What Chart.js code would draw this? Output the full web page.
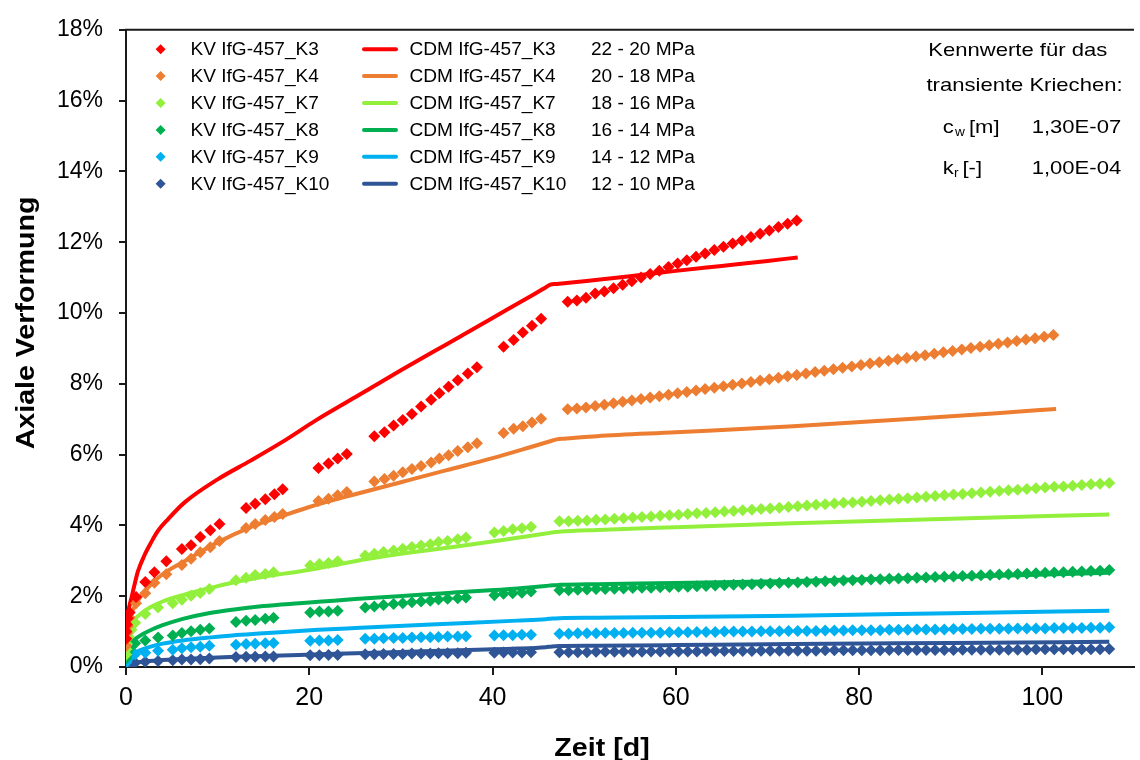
<!DOCTYPE html>
<html><head><meta charset="utf-8">
<script src="https://cdn.jsdelivr.net/npm/chart.js@4/dist/chart.umd.min.js"></script>
<style>html,body{margin:0;padding:0;background:#fff;}#c{display:block;}</style>
</head><body>
<canvas id="c" width="1140" height="760"></canvas>
<script>
// ---------- data ----------
const seriesNames = ['IfG-457_K3','IfG-457_K4','IfG-457_K7','IfG-457_K8','IfG-457_K9','IfG-457_K10'];
const stressLabels = ['22 - 20 MPa','20 - 18 MPa','18 - 16 MPa','16 - 14 MPa','14 - 12 MPa','12 - 10 MPa'];
const xTicks = [0,20,40,60,80,100];
const yTicks = [0,2,4,6,8,10,12,14,16,18];
const xTitle = 'Zeit [d]';
const yTitle = 'Axiale Verformung';
const noteLines = ['Kennwerte für das','transiente Kriechen:'];
const noteParams = [['c','w','[m]','1,30E-07'],['k','r','[-]','1,00E-04']];

const kvK3Days = [0.02,0.05,0.1,0.2,0.4,1.1,2.1,3.1,4.4,6.1,7.1,8.1,9.2,10.2,
 13.1,14.1,15.2,16.2,17.1,
 21.0,22.1,23.1,24.1,
 27.1,28.2,29.2,30.2,31.2,32.2,33.3,34.2,35.2,36.2,37.3,38.3,
 41.2,42.3,43.3,44.3,45.3,
 48.2,49.2,50.2,51.2,52.2,53.2,54.2,55.2,56.2,57.2,58.2,59.2,60.2,61.2,62.2,63.2,64.2,65.2,66.2,67.2,68.2,69.2,70.2,71.2,72.2,73.2];
const kvK3 = [0.8,1.0,1.2,1.38,1.54,1.98,2.4,2.68,2.99,3.33,3.44,3.67,3.86,4.04,
 4.49,4.61,4.74,4.88,5.02,
 5.62,5.75,5.89,6.02,
 6.52,6.63,6.82,6.98,7.15,7.36,7.55,7.73,7.92,8.10,8.29,8.47,
 9.05,9.24,9.45,9.64,9.84,
 10.32,10.35,10.43,10.55,10.61,10.70,10.80,10.90,11.00,11.10,11.19,11.30,11.40,11.49,11.59,11.68,11.78,11.87,11.96,12.05,12.15,12.24,12.33,12.43,12.52,12.61];

const kvK4Days = [0.02,0.05,0.1,0.2,0.4,1.1,2.1,3.1,4.4,6.1,7.1,8.1,9.2,10.2,
 13.1,14.1,15.2,16.2,17.1,
 21.0,22.1,23.1,24.1,
 27.1,28.2,29.2,30.2,31.2,32.2,33.3,34.2,35.2,36.2,37.3,38.3,
 41.2,42.3,43.3,44.3,45.3,
 48.2,49.2,50.2,51.2,52.2,53.2,54.2,55.2,56.2,57.2,
 58.2,59.2,60.2,61.2,62.2,63.2,64.2,65.2,66.2,67.2,
 68.2,69.2,70.2,71.2,72.2,73.2,74.2,75.2,76.2,77.2,
 78.2,79.2,80.2,81.2,82.2,83.2,84.2,85.2,86.2,87.2,
 88.2,89.2,90.2,91.2,92.2,93.2,94.2,95.2,96.2,97.2,
 98.2,99.2,100.2,101.2];
const kvK4 = [0.6,0.8,0.95,1.15,1.4,1.8,2.08,2.38,2.62,2.88,3.06,3.24,3.38,3.56,
 3.93,4.04,4.15,4.24,4.32,
 4.69,4.75,4.85,4.94,
 5.24,5.31,5.40,5.50,5.59,5.68,5.78,5.89,5.98,6.10,6.21,6.32,
 6.61,6.73,6.80,6.91,7.01,
 7.28,7.30,7.33,7.37,7.41,7.45,7.49,7.53,7.57,7.61,
 7.65,7.69,7.73,7.77,7.81,7.85,7.89,7.93,7.97,8.01,
 8.05,8.09,8.13,8.17,8.21,8.25,8.29,8.33,8.37,8.41,
 8.45,8.49,8.53,8.57,8.61,8.65,8.69,8.73,8.77,8.81,
 8.85,8.89,8.93,8.97,9.01,9.05,9.09,9.13,9.17,9.21,
 9.25,9.29,9.33,9.38];

const kvDaysB = [0.02,0.05,0.1,0.3,0.6,1.0,2.1,3.5,5.1,6.1,7.1,8.1,9.1,
 12.0,13.1,14.1,15.2,16.1,
 20.1,21.1,22.1,23.1,
 26.1,27.1,28.1,29.2,30.2,31.2,32.2,33.2,34.1,35.1,36.2,37.1,
 40.2,41.2,42.2,43.2,44.2,
 47.3,48.3,49.3,50.3,51.3,52.3,53.3,54.3,55.3,56.3,
 57.3,58.3,59.3,60.3,61.3,62.3,63.3,64.3,65.3,66.3,
 67.3,68.3,69.3,70.3,71.3,72.3,73.3,74.3,75.3,76.3,
 77.3,78.3,79.3,80.3,81.3,82.3,83.3,84.3,85.3,86.3,
 87.3,88.3,89.3,90.3,91.3,92.3,93.3,94.3,95.3,96.3,
 97.3,98.3,99.3,100.3,101.3,102.3,103.3,104.3,105.3,106.3,
 107.3];
const kvK7 = [0.35,0.5,0.65,0.85,1.05,1.25,1.5,1.68,1.8,1.9,2.01,2.09,2.2,
 2.45,2.52,2.6,2.63,2.68,
 2.87,2.91,2.94,2.99,
 3.15,3.2,3.25,3.29,3.34,3.39,3.43,3.47,3.53,3.56,3.61,3.66,
 3.8,3.84,3.89,3.92,3.96,
 4.12,4.12,4.13,4.14,4.16,4.17,4.19,4.20,4.22,4.24,
 4.25,4.27,4.29,4.30,4.32,4.34,4.35,4.37,4.39,4.41,
 4.43,4.44,4.46,4.48,4.50,4.52,4.54,4.56,4.58,4.60,
 4.62,4.64,4.65,4.67,4.69,4.71,4.73,4.75,4.77,4.79,
 4.81,4.83,4.85,4.87,4.89,4.91,4.93,4.95,4.97,4.99,
 5.01,5.03,5.05,5.07,5.09,5.10,5.12,5.14,5.16,5.18,
 5.20];
const kvK8 = [0.25,0.32,0.4,0.5,0.6,0.67,0.75,0.83,0.89,0.96,1.01,1.05,1.09,
 1.27,1.31,1.33,1.36,1.39,
 1.54,1.57,1.57,1.59,
 1.68,1.71,1.75,1.78,1.8,1.83,1.85,1.87,1.91,1.93,1.94,1.96,
 2.03,2.07,2.08,2.1,2.13,
 2.17,2.17,2.18,2.19,2.20,2.20,2.21,2.22,2.23,2.24,
 2.24,2.25,2.26,2.27,2.27,2.28,2.29,2.30,2.31,2.32,
 2.33,2.34,2.35,2.36,2.37,2.38,2.39,2.40,2.41,2.42,
 2.43,2.44,2.45,2.46,2.47,2.48,2.49,2.50,2.51,2.52,
 2.53,2.54,2.55,2.56,2.57,2.58,2.59,2.60,2.61,2.62,
 2.63,2.64,2.65,2.66,2.67,2.68,2.69,2.70,2.71,2.72,
 2.74];
const kvK9 = [0.12,0.16,0.2,0.26,0.33,0.36,0.4,0.46,0.49,0.53,0.56,0.57,0.6,
 0.63,0.65,0.66,0.67,0.68,
 0.74,0.75,0.75,0.76,
 0.8,0.8,0.81,0.82,0.82,0.83,0.84,0.84,0.85,0.86,0.86,0.87,
 0.89,0.9,0.9,0.91,0.91,
 0.94,0.94,0.95,0.95,0.95,0.96,0.96,0.96,0.97,0.97,
 0.97,0.97,0.98,0.98,0.98,0.99,0.99,0.99,1.00,1.00,
 1.00,1.00,1.01,1.01,1.01,1.02,1.02,1.02,1.02,1.03,
 1.03,1.03,1.04,1.04,1.04,1.04,1.05,1.05,1.05,1.06,
 1.06,1.06,1.06,1.07,1.07,1.07,1.08,1.08,1.08,1.08,
 1.09,1.09,1.09,1.09,1.10,1.10,1.10,1.10,1.11,1.11,
 1.12];
const kvK10 = [0.04,0.06,0.08,0.09,0.1,0.12,0.15,0.17,0.19,0.21,0.21,0.22,0.24,
 0.28,0.29,0.29,0.3,0.3,
 0.33,0.33,0.34,0.34,
 0.36,0.36,0.37,0.37,0.37,0.38,0.38,0.38,0.39,0.39,0.39,0.4,
 0.4,0.41,0.41,0.41,0.42,
 0.42,0.42,0.42,0.42,0.43,0.43,0.43,0.43,0.43,0.43,
 0.44,0.44,0.44,0.44,0.44,0.44,0.45,0.45,0.45,0.45,
 0.45,0.45,0.46,0.46,0.46,0.46,0.46,0.46,0.46,0.47,
 0.47,0.47,0.47,0.47,0.47,0.47,0.48,0.48,0.48,0.48,
 0.48,0.48,0.48,0.48,0.49,0.49,0.49,0.49,0.49,0.49,
 0.49,0.49,0.50,0.50,0.50,0.50,0.50,0.50,0.50,0.50,
 0.51];

const cdmK3Days = [0,0.01,0.03,0.08,0.2,0.4,0.6,1.0,1.3,2.0,2.7,3.5,4.6,6.4,10,13.6,17.2,20.8,25,30,35,40,44,45.6,46.3,47.0,50,55,60,65,70,73.3];
const cdmK3 = [0.1,0.5,0.85,1.15,1.5,1.75,1.96,2.4,2.7,3.15,3.5,3.85,4.18,4.65,5.3,5.83,6.38,6.98,7.62,8.38,9.12,9.86,10.45,10.69,10.8,10.82,10.9,11.04,11.19,11.33,11.47,11.57];
const cdmK4Days = [0,0.02,0.05,0.1,0.2,0.5,0.9,1.5,2.7,4,6.4,10,13.6,17.2,20,25,30,35,40,44,46.2,47,47.8,51.4,60,72.8,85,95,101.5];
const cdmK4 = [0.1,0.5,0.75,0.95,1.2,1.5,1.68,1.95,2.33,2.62,2.99,3.52,3.95,4.28,4.52,4.88,5.22,5.56,5.9,6.2,6.37,6.43,6.45,6.52,6.63,6.8,7.0,7.17,7.29];
const cdmK7Days = [0,0.02,0.08,0.3,0.8,1.5,2.6,4,6.2,9,11.6,15,18.9,21,26.3,30,35.5,42.7,45.8,46.5,47.3,51.4,60,72.8,90,107.3];
const cdmK7 = [0.05,0.4,0.94,1.12,1.31,1.48,1.68,1.85,2.03,2.22,2.38,2.55,2.7,2.79,3.05,3.2,3.38,3.65,3.77,3.8,3.82,3.87,3.95,4.06,4.19,4.31];
const cdmK8Days = [0,0.02,0.08,0.3,0.8,1.5,2.6,4,6.2,9,11.6,15,18.9,21,25,33.3,35.5,42.7,45.8,46.5,47.3,51.4,60,72.8,90,107.3];
const cdmK8 = [0.05,0.3,0.52,0.62,0.75,0.88,1.03,1.18,1.36,1.52,1.62,1.72,1.8,1.84,1.92,2.06,2.1,2.22,2.29,2.31,2.32,2.34,2.37,2.43,2.54,2.66];
const cdmK9Days = [0,0.02,0.08,0.3,0.8,1.5,2.6,4,6.2,9,11.6,15,18.9,21,25,33.3,42.7,45.8,46.5,47.3,51.4,60,72.8,90,107.3];
const cdmK9 = [0.03,0.15,0.24,0.3,0.38,0.47,0.57,0.66,0.75,0.83,0.89,0.95,1.02,1.05,1.1,1.2,1.31,1.35,1.37,1.38,1.39,1.41,1.45,1.52,1.59];
const cdmK10Days = [0,0.08,0.5,1.5,2.6,5,8,12,18.9,25,33.3,42.7,45.8,46.5,47.3,51.4,60,72.8,90,107.3];
const cdmK10 = [0.02,0.06,0.1,0.14,0.17,0.21,0.25,0.29,0.34,0.39,0.45,0.52,0.56,0.58,0.59,0.6,0.62,0.65,0.68,0.71];

// ---------- styles ----------
const seriesColors = ['#FF0000','#ED7D31','#92F03C','#00B050','#00B0F0','#2F5597'];
const axisColor = '#1a1a1a';
const FONT = "'Liberation Sans', Arial, sans-serif";

const kvDays = [kvK3Days, kvK4Days, kvDaysB, kvDaysB, kvDaysB, kvDaysB];
const kvVals = [kvK3, kvK4, kvK7, kvK8, kvK9, kvK10];
const cdmDays = [cdmK3Days, cdmK4Days, cdmK7Days, cdmK8Days, cdmK9Days, cdmK10Days];
const cdmVals = [cdmK3, cdmK4, cdmK7, cdmK8, cdmK9, cdmK10];

const pts = (xs, ys) => xs.map((x, i) => ({x: x, y: ys[i]}));
const datasets = [];
seriesNames.forEach((n, i) => {
  datasets.push({
    label: 'CDM ' + n, data: pts(cdmDays[i], cdmVals[i]), showLine: true,
    borderColor: seriesColors[i], backgroundColor: seriesColors[i], borderWidth: 4,
    pointRadius: 0, cubicInterpolationMode: 'monotone', order: 2
  });
});
seriesNames.forEach((n, i) => {
  datasets.push({
    label: 'KV ' + n, data: pts(kvDays[i], kvVals[i]), showLine: false,
    pointStyle: 'rectRot', pointRadius: 6, borderWidth: 0,
    backgroundColor: seriesColors[i], borderColor: seriesColors[i], order: 1
  });
});

function sText(ctx, t, x, y, sx) {
  ctx.save(); ctx.translate(x, y); ctx.scale(sx, 1); ctx.fillText(t, 0, 0); ctx.restore();
}

const overlay = {
  id: 'overlay',
  afterDraw(chart) {
    const ctx = chart.ctx, a = chart.chartArea;
    ctx.save();
    // top frame line
    ctx.strokeStyle = axisColor; ctx.lineWidth = 2;
    ctx.beginPath(); ctx.moveTo(a.left - 1, a.top); ctx.lineTo(a.right, a.top); ctx.stroke();

    ctx.fillStyle = '#000';
    // axis titles
    ctx.font = 'bold 26px ' + FONT;
    ctx.textAlign = 'center'; ctx.textBaseline = 'alphabetic';
    sText(ctx, xTitle, 602, 756, 1.1);
    ctx.save(); ctx.translate(34, 323); ctx.rotate(-Math.PI / 2); ctx.scale(1.1, 1);
    ctx.fillText(yTitle, 0, 0); ctx.restore();

    // legend
    ctx.textAlign = 'left';
    ctx.font = '18px ' + FONT;
    for (let i = 0; i < seriesNames.length; i++) {
      const base = 55 + i * 26.9, cy = base - 5.8;
      ctx.fillStyle = seriesColors[i];
      ctx.beginPath();
      ctx.moveTo(160.6 - 5, cy); ctx.lineTo(160.6, cy - 5);
      ctx.lineTo(160.6 + 5, cy); ctx.lineTo(160.6, cy + 5); ctx.closePath(); ctx.fill();
      ctx.strokeStyle = seriesColors[i]; ctx.lineWidth = 4; ctx.lineCap = 'round';
      ctx.beginPath(); ctx.moveTo(364, cy); ctx.lineTo(396, cy); ctx.stroke();
      ctx.fillStyle = '#000';
      sText(ctx, 'KV ' + seriesNames[i], 190.5, base, 1.06);
      sText(ctx, 'CDM ' + seriesNames[i], 409.4, base, 1.06);
      sText(ctx, stressLabels[i], 591, base, 1.06);
    }

    // annotation
    ctx.font = '19px ' + FONT;
    sText(ctx, noteLines[0], 928.3, 56, 1.16);
    sText(ctx, noteLines[1], 926.5, 90.7, 1.16);
    const rowsY = [133.3, 174];
    const subX = [955, 954], restX = [969, 962.5];
    noteParams.forEach((p, i) => {
      ctx.font = '19px ' + FONT;
      sText(ctx, p[0], 942.8, rowsY[i], 1.16);
      sText(ctx, p[2], restX[i], rowsY[i], 1.16);
      sText(ctx, p[3], 1031.7, rowsY[i], 1.16);
      ctx.font = '13px ' + FONT;
      sText(ctx, p[1], subX[i], rowsY[i] + 3, 1.05);
    });
    ctx.restore();
  }
};

new Chart(document.getElementById('c'), {
  type: 'scatter',
  data: { datasets: datasets },
  options: {
    responsive: false, animation: false, devicePixelRatio: 1,
    layout: { padding: { top: 21, left: 0, right: 0, bottom: 0 } },
    plugins: { legend: { display: false }, tooltip: { enabled: false } },
    scales: {
      x: {
        type: 'linear', min: 0, max: 110,
        afterBuildTicks: s => { s.ticks = xTicks.map(v => ({ value: v })); },
        afterFit: s => { s.height = 93; },
        ticks: { font: { family: FONT, size: 25 }, color: '#000', padding: 8, maxRotation: 0 },
        grid: { drawOnChartArea: false, drawTicks: true, tickLength: 8, color: axisColor, lineWidth: 2 },
        border: { display: true, color: axisColor, width: 2 },
        title: { display: false }
      },
      y: {
        type: 'linear', min: 0, max: 18,
        afterBuildTicks: s => { s.ticks = yTicks.map(v => ({ value: v })); },
        afterFit: s => { s.width = 126; },
        ticks: { font: { family: FONT, size: 23 }, color: '#000', padding: 16, callback: v => v + '%' },
        grid: { drawOnChartArea: false, drawTicks: true, tickLength: 7, color: axisColor, lineWidth: 2 },
        border: { display: true, color: axisColor, width: 2 },
        title: { display: false }
      }
    }
  },
  plugins: [overlay]
});
</script>
</body></html>
